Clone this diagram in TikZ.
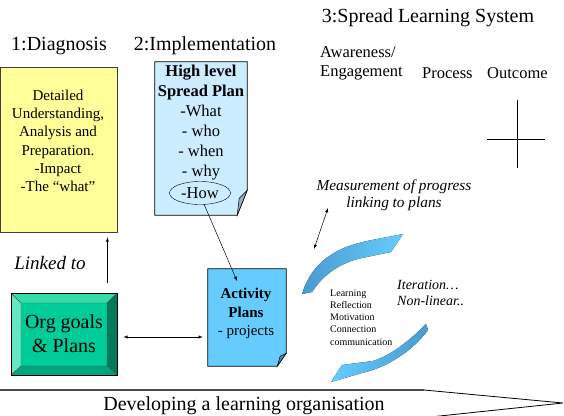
\documentclass[tikz,border=0pt]{standalone}
\usepackage{fontspec}
\IfFontExistsTF{LiberationSerif-Regular.ttf}
  {\setmainfont{LiberationSerif}[Extension=.ttf, UprightFont=*-Regular, BoldFont=*-Bold,
    ItalicFont=*-Italic, BoldItalicFont=*-BoldItalic]}
  {\setmainfont{Liberation Serif}}
\usetikzlibrary{shapes.geometric}

\definecolor{notepad}{HTML}{FFFF99}
\definecolor{paleblue}{HTML}{CCECFF}
\definecolor{skyblue}{HTML}{66CCFF}
\definecolor{deepblue}{HTML}{4A9AD0}
\definecolor{foldgrey}{HTML}{9AAABF}
\definecolor{folddark}{HTML}{4F88B0}
\definecolor{jade}{HTML}{00CC99}
\definecolor{jadelight}{HTML}{33DDAA}
\definecolor{jadepale}{HTML}{66E6C2}
\definecolor{jadedark}{HTML}{007A5A}
\definecolor{jademid}{HTML}{00A57A}

\begin{document}
\begin{tikzpicture}[x=1pt, y=-1pt,
  title/.style={inner sep=0pt, font=\fontsize{20}{24}\selectfont},
  sub/.style={inner sep=0pt, anchor=west, font=\fontsize{16.5}{20}\selectfont},
  words/.style={inner sep=0pt, align=center},
  sheet/.style={draw=black, line width=0.8pt},
  link/.style={-latex, line width=0.5pt}]
  \useasboundingbox (0,0) rectangle (564,415);

  % Stage headings
  \node[title] (h1) at (59,46) {1:Diagnosis};
  \node[title] (h2) at (205,46) {2:Implementation};
  \node[title] (h3) at (428,18) {3:Spread Learning System};
  \node[sub] (aware) at (320,52) {Awareness/};
  \node[sub] (engage) at (320,73) {Engagement};
  \node[sub] (process) at (422,73) {Process};
  \node[sub] (outcome) at (487,73) {Outcome};
  \draw[line width=0.8pt] (517,100) -- (517,168);
  \draw[line width=0.8pt] (487,139) -- (545,139);

  % Diagnosis note
  \node[sheet, draw=black!75, fill=notepad, minimum width=117, minimum height=165, inner sep=0] (diag) at (58.5,149.5) {};
  \node[words, font=\fontsize{15}{18.3}\selectfont] (diagtext) at (58,141)
    {Detailed\\Understanding,\\Analysis and\\Preparation.\\-Impact\\-The “what”};

  % High level plan sheet
  \node[minimum width=92, minimum height=153, inner sep=0] (plan) at (201,138.5) {};
  \filldraw[sheet, fill=paleblue] (plan.north west) -- (plan.north east) -- ([yshift=25pt]plan.south east)
    -- ([xshift=-10pt]plan.south east) -- (plan.south west) -- cycle;
  \filldraw[fill=foldgrey, line width=0.5pt] ([yshift=25pt]plan.south east) -- ([xshift=-10pt]plan.south east)
    -- ([shift={(-8pt,17pt)}]plan.south east) -- cycle;
  \node[words, font=\fontsize{16.5}{20}\selectfont] (plantext) at (201,123)
    {\textbf{High level}\\\textbf{Spread Plan}\\-What\\- who\\- when\\- why};
  \node[draw, ellipse, inner sep=0, minimum width=61, minimum height=23, font=\fontsize{16.5}{20}\selectfont] (how) at (200,193) {-How};

  % Activity plans sheet
  \node[minimum width=78, minimum height=97, inner sep=0] (act) at (247,317.5) {};
  \filldraw[sheet, fill=skyblue] (act.north west) -- (act.north east) -- ([yshift=13pt]act.south east)
    -- ([xshift=-9pt]act.south east) -- (act.south west) -- cycle;
  \filldraw[fill=folddark, line width=0.5pt] ([yshift=13pt]act.south east) -- ([xshift=-9pt]act.south east)
    -- ([shift={(-6pt,10pt)}]act.south east) -- cycle;
  \node[words, font=\fontsize{15}{18.5}\selectfont] (acttext) at (246,313.5)
    {\textbf{Activity}\\\textbf{Plans}\\- projects};

  % Bevelled goals button
  \fill[jade] (21,303) rectangle (107,366);
  \fill[jadelight] (11,293) -- (117,293) -- (107,303) -- (21,303) -- cycle;
  \fill[jadepale] (11,293) -- (21,303) -- (21,366) -- (11,375) -- cycle;
  \fill[jadedark] (117,293) -- (117,375) -- (107,366) -- (107,303) -- cycle;
  \fill[jademid] (11,375) -- (117,375) -- (107,366) -- (21,366) -- cycle;
  \draw[line width=0.4pt, black!70] (21,303) rectangle (107,366)
    (11,293) -- (21,303) (117,293) -- (107,303) (11,375) -- (21,366) (117,375) -- (107,366);
  \node[draw, line width=0.8pt, minimum width=106, minimum height=82, inner sep=0, align=center,
    font=\fontsize{20}{24}\selectfont] (org) at (64,334) {Org goals\\\& Plans};
  \node[inner sep=0, font=\fontsize{19}{22}\selectfont\itshape] (linked) at (50,263) {Linked to};

  % Links between the boxes
  \draw[link, shorten <=10pt, shorten >=5pt] ([xshift=-10pt]org.north east) -- ([xshift=-10pt]diag.south east);
  \coordinate (actin) at (237,281);
  \draw[link] (how.-70) -- (actin);
  \draw[link, latex-latex, shorten <=6pt, shorten >=5pt] ([yshift=-3pt]org.east) -- ([yshift=-3pt]org.east -| act.west);

  % Measurement and iteration notes
  \node[words, font=\fontsize{15.3}{17}\selectfont\itshape] (meas) at (394,195) {Measurement of progress\\linking to plans};
  \coordinate (mtop) at (328,208);
  \coordinate (mbot) at (314,249);
  \draw[link, latex-latex] (mtop) -- (mbot);
  \node[words, align=left, anchor=west, font=\fontsize{14}{16}\selectfont\itshape] (iter) at (397,293) {Iteration…\\Non-linear..};
  \node[words, align=left, anchor=west, font=\fontsize{10}{12.2}\selectfont] (loop) at (330,317.5)
    {Learning\\Reflection\\Motivation\\Connection\\communication};

  % Curved arrows of the cycle
  \fill[left color=deepblue, right color=skyblue] (302,294) .. controls (312,262) and (335,247) .. (372,240)
    -- (403,234) -- (391,252) -- (362,258) .. controls (343,262) and (324,273) .. (312,292) -- cycle;
  \fill[left color=skyblue, right color=deepblue] (426,324) .. controls (410,340) and (392,355) .. (373,361)
    -- (342,365) -- (331,382) -- (362,373) .. controls (385,368) and (412,352) .. (428,330) -- cycle;

  % Banner along the bottom
  \draw[line width=1.3pt, black!70] (-2,390) -- (424,390);
  \draw[line width=0.8pt] (424,390) -- (563,403) -- (430,417);
  \node[title] (banner) at (244,406) {Developing a learning organisation};
\end{tikzpicture}
\end{document}
